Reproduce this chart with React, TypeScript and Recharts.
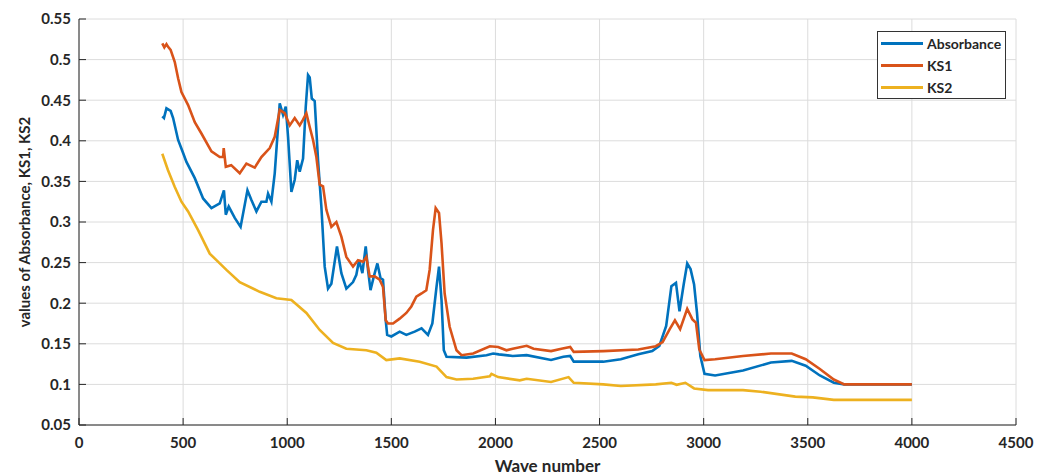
import { LineChart, Line, XAxis, YAxis, CartesianGrid } from 'recharts';

const absorbanceX = [400, 408, 420, 440, 452, 476, 500, 516, 556, 596, 636, 676, 696, 705, 719, 748, 776, 809, 828, 852, 876, 900, 908, 924, 940, 964, 980, 993, 1004, 1020, 1036, 1048, 1060, 1076, 1089, 1100, 1108, 1118, 1132, 1148, 1164, 1180, 1196, 1212, 1239, 1260, 1284, 1316, 1332, 1345, 1361, 1377, 1388, 1400, 1416, 1433, 1448, 1460, 1473, 1480, 1500, 1540, 1572, 1612, 1645, 1676, 1697, 1717, 1729, 1741, 1752, 1765, 1861, 1957, 1989, 2016, 2083, 2150, 2267, 2326, 2359, 2376, 2518, 2602, 2686, 2753, 2787, 2820, 2845, 2867, 2884, 2904, 2921, 2937, 2954, 2968, 2984, 3004, 3055, 3189, 3323, 3423, 3490, 3558, 3625, 3675, 4000];
const absorbance = [0.430, 0.428, 0.440, 0.437, 0.428, 0.401, 0.385, 0.374, 0.354, 0.329, 0.317, 0.323, 0.339, 0.309, 0.319, 0.305, 0.294, 0.339, 0.327, 0.313, 0.325, 0.325, 0.335, 0.325, 0.360, 0.446, 0.432, 0.442, 0.405, 0.337, 0.352, 0.376, 0.362, 0.378, 0.442, 0.481, 0.478, 0.452, 0.449, 0.376, 0.319, 0.245, 0.218, 0.224, 0.270, 0.237, 0.218, 0.226, 0.235, 0.253, 0.237, 0.270, 0.241, 0.216, 0.233, 0.249, 0.231, 0.229, 0.179, 0.161, 0.159, 0.165, 0.161, 0.165, 0.169, 0.161, 0.175, 0.220, 0.245, 0.204, 0.142, 0.134, 0.133, 0.136, 0.138, 0.137, 0.135, 0.136, 0.130, 0.134, 0.135, 0.128, 0.128, 0.131, 0.137, 0.141, 0.1475, 0.172, 0.221, 0.225, 0.190, 0.223, 0.249, 0.242, 0.223, 0.188, 0.135, 0.113, 0.111, 0.117, 0.127, 0.129, 0.123, 0.111, 0.102, 0.100, 0.100];

const ks1X = [400, 410, 420, 427, 440, 460, 476, 492, 524, 556, 588, 636, 676, 692, 695, 705, 731, 772, 804, 844, 876, 916, 940, 964, 988, 1012, 1036, 1060, 1076, 1092, 1108, 1124, 1140, 1156, 1172, 1188, 1212, 1236, 1260, 1284, 1316, 1340, 1364, 1380, 1396, 1420, 1444, 1460, 1473, 1484, 1508, 1540, 1572, 1596, 1620, 1645, 1668, 1684, 1700, 1713, 1729, 1741, 1756, 1780, 1813, 1837, 1893, 1973, 2013, 2053, 2083, 2150, 2183, 2267, 2317, 2359, 2376, 2518, 2686, 2770, 2803, 2837, 2862, 2887, 2921, 2946, 2963, 2979, 3004, 3055, 3189, 3323, 3423, 3490, 3558, 3625, 3675, 4000];
const ks1 = [0.520, 0.515, 0.519, 0.516, 0.512, 0.497, 0.477, 0.460, 0.444, 0.423, 0.409, 0.387, 0.380, 0.380, 0.391, 0.368, 0.370, 0.360, 0.372, 0.367, 0.380, 0.391, 0.405, 0.438, 0.434, 0.419, 0.428, 0.419, 0.426, 0.434, 0.417, 0.401, 0.380, 0.346, 0.344, 0.315, 0.294, 0.300, 0.282, 0.257, 0.245, 0.253, 0.251, 0.257, 0.233, 0.233, 0.229, 0.220, 0.179, 0.175, 0.175, 0.181, 0.188, 0.196, 0.208, 0.212, 0.216, 0.241, 0.290, 0.317, 0.311, 0.274, 0.212, 0.171, 0.142, 0.136, 0.138, 0.147, 0.146, 0.142, 0.144, 0.1475, 0.144, 0.141, 0.144, 0.146, 0.140, 0.141, 0.143, 0.147, 0.152, 0.168, 0.179, 0.168, 0.193, 0.180, 0.176, 0.143, 0.130, 0.131, 0.135, 0.138, 0.138, 0.131, 0.119, 0.106, 0.100, 0.100];

const ks2X = [400, 427, 460, 492, 524, 572, 628, 660, 708, 772, 868, 948, 1020, 1092, 1156, 1220, 1284, 1380, 1428, 1476, 1540, 1636, 1717, 1765, 1813, 1893, 1973, 1981, 2013, 2117, 2150, 2267, 2351, 2376, 2518, 2602, 2770, 2845, 2870, 2912, 2954, 3021, 3189, 3273, 3440, 3524, 3625, 3775, 4000];
const ks2 = [0.384, 0.364, 0.343, 0.325, 0.313, 0.290, 0.261, 0.253, 0.241, 0.226, 0.214, 0.206, 0.204, 0.188, 0.167, 0.151, 0.144, 0.142, 0.139, 0.130, 0.132, 0.128, 0.122, 0.109, 0.106, 0.107, 0.110, 0.113, 0.109, 0.105, 0.107, 0.103, 0.109, 0.102, 0.100, 0.098, 0.100, 0.102, 0.0995, 0.102, 0.095, 0.093, 0.093, 0.091, 0.085, 0.084, 0.081, 0.081, 0.081];

const xTicks = [0, 500, 1000, 1500, 2000, 2500, 3000, 3500, 4000, 4500];
const yTicks = [0.05, 0.1, 0.15, 0.2, 0.25, 0.3, 0.35, 0.4, 0.45, 0.5, 0.55];

const series = [
  { name: 'Absorbance', color: '#0072BD', xs: absorbanceX, ys: absorbance },
  { name: 'KS1', color: '#D95319', xs: ks1X, ys: ks1 },
  { name: 'KS2', color: '#EDB120', xs: ks2X, ys: ks2 },
];

const toPoints = (xs: number[], ys: number[]) => xs.map((x, i) => ({ x, y: ys[i] }));

const font = 'Lato, "Open Sans", sans-serif';
const ink = '#262626';

function LegendBox() {
  return (
    <div
      style={{
        position: 'absolute',
        left: 877,
        top: 31,
        border: '1px solid #333',
        background: '#fff',
        padding: '0px 4px 0px 3px',
        fontFamily: font,
        fontWeight: 700,
        fontSize: 14,
        color: ink,
      }}
    >
      {series.map((s) => (
        <div key={s.name} style={{ display: 'flex', alignItems: 'center', height: 22 }}>
          <span style={{ display: 'inline-block', width: 42, height: 3, background: s.color, marginRight: 4 }} />
          {s.name}
        </div>
      ))}
    </div>
  );
}

export default function App() {
  return (
    <div style={{ position: 'absolute', left: 0, top: 0, width: 1047, height: 475, background: '#fff' }}>
      <LineChart width={1047} height={475} margin={{ top: 19, right: 31, left: 0, bottom: 0 }}>
        <CartesianGrid stroke="#dcdcdc" strokeWidth={1} />
        <XAxis
          type="number"
          dataKey="x"
          domain={[0, 4500]}
          ticks={xTicks}
          height={50}
          axisLine={{ stroke: ink }}
          tickLine={{ stroke: ink }}
          tickSize={-7}
          tickMargin={19}
          tick={{ fill: ink, fontFamily: font, fontWeight: 700, fontSize: 15 }}
          label={{ value: 'Wave number', position: 'insideBottom', offset: 3, fill: ink, fontFamily: font, fontWeight: 700, fontSize: 17 }}
        />
        <YAxis
          type="number"
          domain={[0.05, 0.55]}
          ticks={yTicks}
          width={79}
          axisLine={{ stroke: ink }}
          tickLine={{ stroke: ink }}
          tickSize={-7}
          tickMargin={15}
          tickFormatter={(v: number) => String(Math.round(v * 100) / 100)}
          tick={{ fill: ink, fontFamily: font, fontWeight: 700, fontSize: 15 }}
          label={{ value: 'values of Absorbance, KS1, KS2', angle: -90, position: 'insideLeft', offset: 25, style: { textAnchor: 'middle' }, fill: ink, fontFamily: font, fontWeight: 700, fontSize: 15 }}
        />
        {series.map((s) => (
          <Line
            key={s.name}
            name={s.name}
            data={toPoints(s.xs, s.ys)}
            dataKey="y"
            type="linear"
            stroke={s.color}
            strokeWidth={2.6}
            dot={false}
            activeDot={false}
            isAnimationActive={false}
          />
        ))}
      </LineChart>
      <LegendBox />
    </div>
  );
}
